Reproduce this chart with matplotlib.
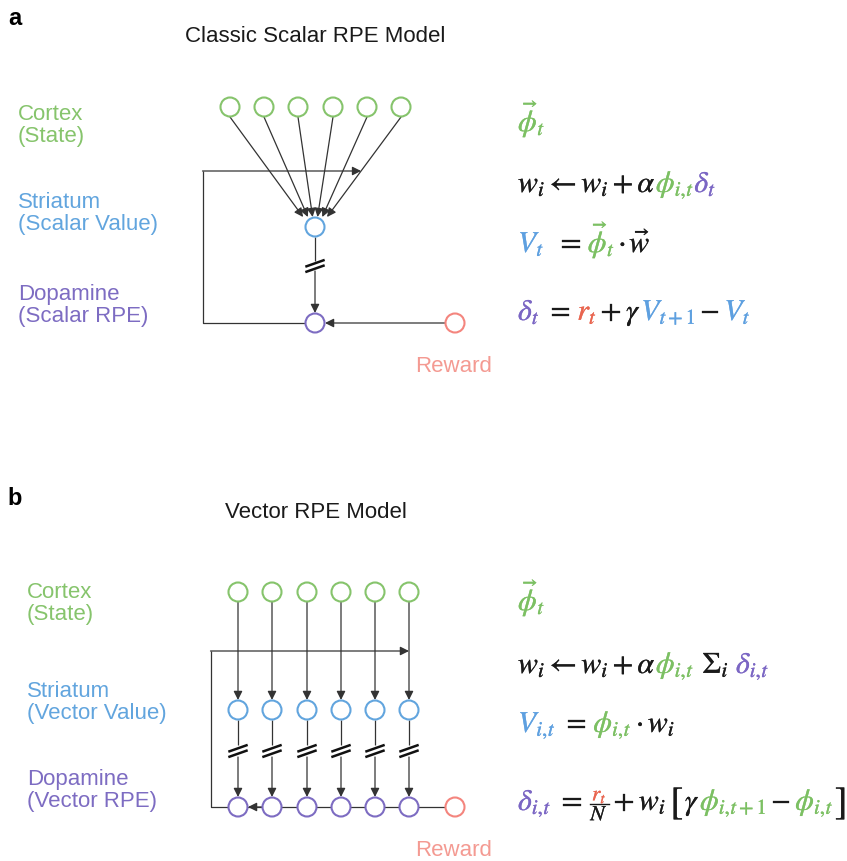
import matplotlib
matplotlib.use('Agg')
import matplotlib.pyplot as plt
import matplotlib.patheffects as pe
from matplotlib.patches import Circle

plt.rcParams['mathtext.fontset'] = 'stix'
plt.rcParams['font.family'] = ['Liberation Sans', 'DejaVu Sans']

# ---------------- data / text content ----------------
panel_letters = ['a', 'b']
panel_titles = ['Classic Scalar RPE Model', 'Vector RPE Model']
labels_a = [['Cortex', '(State)'], ['Striatum', '(Scalar Value)'], ['Dopamine', '(Scalar RPE)']]
labels_b = [['Cortex', '(State)'], ['Striatum', '(Vector Value)'], ['Dopamine', '(Vector RPE)']]
reward_label = 'Reward'
n_cortex = 6

GREEN = '#86c46c'
BLUE = '#62a5de'
PURPLE = '#7d6cc2'
RED_C = '#f4857e'
RED_T = '#f49a92'
EQ_GREEN = '#7cc063'
EQ_BLUE = '#5ea0e0'
EQ_PURPLE = '#7b66c4'
EQ_RED = '#e9654f'
BLK = '#1a1a1a'
LINE = '#333333'

REL = 6   # gap around relations (px)
BIN = 4   # gap around binary operators (px)

eqs_a = [
    [(r'\vec{\phi}_t', EQ_GREEN)],
    [(r'w_i \leftarrow w_i + \alpha', BLK), (r'\phi_{i,\!t}', EQ_GREEN), (r'\delta_t', EQ_PURPLE)],
    [(r'V_t', EQ_BLUE), 12, (r'=', BLK), REL, (r'\vec{\phi}_t', EQ_GREEN), 3, (r'\cdot', BLK), 3,
     (r'\vec{w}', BLK)],
    [(r'\delta_t', EQ_PURPLE), REL, (r'=', BLK), REL, (r'r_t', EQ_RED), BIN, (r'+', BLK), BIN,
     (r'\gamma', BLK), (r'V_{t+1}', EQ_BLUE), BIN, (r'-', BLK), BIN, (r'V_t', EQ_BLUE)],
]
eqs_b = [
    [(r'\vec{\phi}_t', EQ_GREEN)],
    [(r'w_i \leftarrow w_i + \alpha', BLK), (r'\phi_{i,\!t}', EQ_GREEN), 8, (r'\Sigma_i', BLK), 7,
     (r'\delta_{i,\!t}', EQ_PURPLE)],
    [(r'V_{i,\!t}', EQ_BLUE), REL, (r'=', BLK), REL, (r'\phi_{i,\!t}', EQ_GREEN), 4, (r'\cdot', BLK), 4,
     (r'w_i', BLK)],
    [(r'\delta_{i,\!t}', EQ_PURPLE), REL, (r'=', BLK), REL, ('FRAC', (r'r_t', EQ_RED, r'N', BLK)), BIN,
     (r'+', BLK), BIN, (r'w_i', BLK), 4, ('LB', BLK), (r'\gamma', BLK), (r'\phi_{i,\!t+1}', EQ_GREEN), BIN,
     (r'-', BLK), BIN, (r'\phi_{i,\!t}', EQ_GREEN), 1, ('RB', BLK)],
]

# ---------------- figure ----------------
W, H = 847, 861
fig = plt.figure(figsize=(W / 100, H / 100), dpi=100)
ax = fig.add_axes([0, 0, 1, 1])
ax.set_xlim(0, W)
ax.set_ylim(H, 0)
ax.axis('off')
renderer = fig.canvas.get_renderer()

R = 9.5
LW_C = 1.5
LW_L = 0.9
LAB_SIZE = 16


def node(x, y, col):
    ax.add_patch(Circle((x, y), R, facecolor='white', edgecolor=col, lw=LW_C, zorder=3))


def line(xs, ys):
    ax.plot(xs, ys, color=LINE, lw=LW_L, zorder=2, solid_capstyle='butt')


def arrow(x0, y0, x1, y1):
    ax.annotate('', xy=(x1, y1), xytext=(x0, y0),
                arrowprops=dict(arrowstyle='-|>', color=LINE, lw=LW_L, mutation_scale=13,
                                shrinkA=0, shrinkB=0), zorder=2)


def slashes(x, yc):
    for off in (-2.7, 2.7):
        ax.plot([x - 8.5, x + 8.5], [yc + off + 3, yc + off - 3], color='#111111', lw=1.8, zorder=4)


def labels(x, rows, baselines, cols):
    for (l1, l2), (b1, b2), c in zip(rows, baselines, cols):
        ax.text(x, b1, l1, fontsize=LAB_SIZE, color=c, va='baseline', ha='left')
        ax.text(x, b2, l2, fontsize=LAB_SIZE, color=c, va='baseline', ha='left')


EQ_SIZE = 21.5
EM = EQ_SIZE * 100 / 72


def bold(t, col):
    t.set_path_effects([pe.withStroke(linewidth=0.2, foreground=col)])


def eq_row(x, y, pieces, size=EQ_SIZE):
    for p in pieces:
        if isinstance(p, (int, float)):
            x += p
            continue
        tex, col = p
        if tex == 'FRAC':
            num, ncol, den, dcol = col
            s = size * 0.72
            tn = ax.text(0, 0, f'${num}$', fontsize=s, color=ncol)
            td = ax.text(0, 0, f'${den}$', fontsize=s, color=dcol)
            bold(tn, ncol); bold(td, dcol)
            wn = tn.get_window_extent(renderer=renderer).width
            wd = td.get_window_extent(renderer=renderer).width
            fw = max(wn, wd) + 3
            cx = x + fw / 2
            bar = y - 0.2 * EM
            tn.set_position((cx, bar - 0.12 * EM)); tn.set_ha('center'); tn.set_va('baseline')
            td.set_position((cx, bar + 0.07 * EM + 0.66 * 0.72 * EM)); td.set_ha('center'); td.set_va('baseline')
            ax.plot([x + 1, x + fw - 1], [bar, bar], color=BLK, lw=1.0)
            x += fw
            continue
        if tex in ('LB', 'RB'):
            ch = '[' if tex == 'LB' else ']'
            t = ax.text(x, y + 0.12 * EM, f'$\\mathrm{{{ch}}}$', fontsize=size * 1.3, color=col,
                        va='baseline', ha='left')
            bold(t, col)
            x += t.get_window_extent(renderer=renderer).width + 1
            continue
        t = ax.text(x, y, f'${tex}$', fontsize=size, color=col, va='baseline', ha='left')
        bold(t, col)
        x += t.get_window_extent(renderer=renderer).width
    return x


# ---------------- panel a ----------------
ax.text(8, 25, panel_letters[0], fontsize=17, fontweight='bold', va='baseline', ha='left', color='black')
ax.text(315, 42, panel_titles[0], fontsize=16, va='baseline', ha='center', color=BLK)
labels(18, labels_a, [(120, 142), (208, 230), (300, 322)], [GREEN, BLUE, PURPLE])

cx_a = [230, 264, 298, 333, 367, 401]
cy_a, sy_a, dy_a = 107, 227, 323
sx_a = 315
for x in cx_a:
    node(x, cy_a, GREEN)
    ex = sx_a + (x - sx_a) * 0.14
    arrow(x, cy_a + R + 0.5, ex, sy_a - R - 0.5)
node(sx_a, sy_a, BLUE)
node(sx_a, dy_a, PURPLE)
node(455, dy_a, RED_C)
# striatum -> dopamine with break
line([sx_a, sx_a], [sy_a + R, 261])
slashes(sx_a, 266)
arrow(sx_a, 271, sx_a, dy_a - R - 0.5)
# reward -> dopamine
arrow(455 - R, dy_a, sx_a + R + 0.5, dy_a)
# loop
line([sx_a - R, 203, 203], [dy_a, dy_a, 171])
ylp = 171
x_last = cx_a[-1] + (sx_a + (cx_a[-1] - sx_a) * 0.14 - cx_a[-1]) * (ylp - cy_a - R) / (sy_a - cy_a - 2 * R)
arrow(203 - 0.5, ylp, x_last, ylp)
ax.text(454, 372, reward_label, fontsize=LAB_SIZE, color=RED_T, va='baseline', ha='center')

# equations a
for pieces, yb in zip(eqs_a, [131, 192, 252, 320]):
    eq_row(518, yb, pieces)

# ---------------- panel b ----------------
ax.text(7, 505, panel_letters[1], fontsize=17, fontweight='bold', va='baseline', ha='left', color='black')
ax.text(316, 518, panel_titles[1], fontsize=16, va='baseline', ha='center', color=BLK)
labels(27, labels_b, [(598, 620), (697, 719), (785, 807)], [GREEN, BLUE, PURPLE])

cx_b = [238, 272, 307, 341, 375, 409]
cy_b, sy_b, dy_b = 592, 710, 807
# bottom line (behind nodes)
line([455, 211, 211], [dy_b, dy_b, 651])
arrow(211 - 0.5, 651, cx_b[-1], 651)
for x in cx_b:
    node(x, cy_b, GREEN)
    node(x, sy_b, BLUE)
    node(x, dy_b, PURPLE)
    arrow(x, cy_b + R, x, sy_b - R - 0.5)
    line([x, x], [sy_b + R, 745])
    slashes(x, 751)
    arrow(x, 757, x, dy_b - R - 0.5)
node(455, dy_b, RED_C)
arrow(cx_b[1] - R, dy_b, cx_b[0] + R + 0.5, dy_b)
ax.text(454, 856, reward_label, fontsize=LAB_SIZE, color=RED_T, va='baseline', ha='center')

for pieces, yb in zip(eqs_b, [610, 673, 732, 810]):
    eq_row(518, yb, pieces)

fig.savefig('out.png', dpi=100, facecolor='white')
